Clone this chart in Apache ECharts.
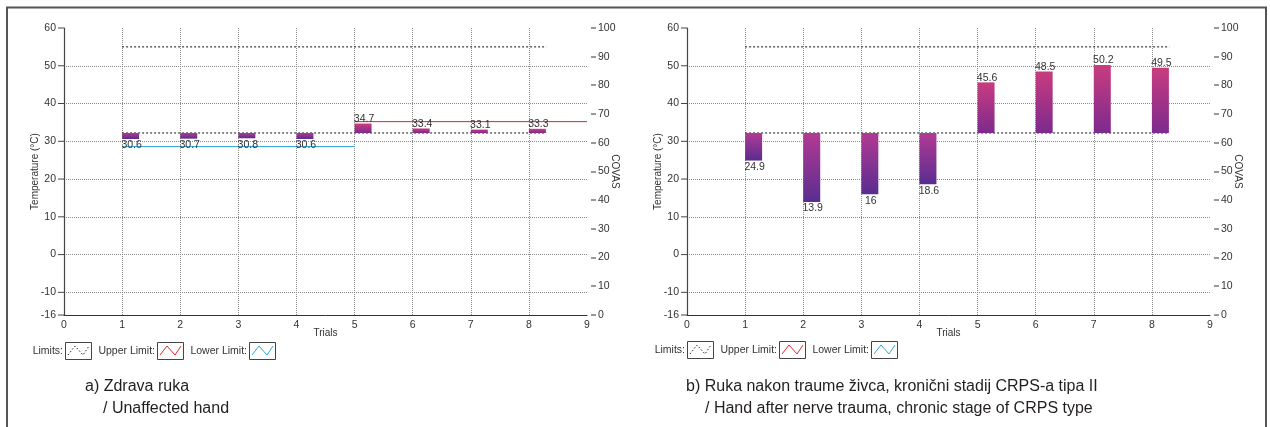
<!DOCTYPE html>
<html>
<head>
<meta charset="utf-8">
<script src="https://cdn.jsdelivr.net/npm/echarts@6/dist/echarts.min.js"></script>
<style>
html,body{margin:0;padding:0;background:#fff;}
#chart{width:1270px;height:427px;}
</style>
</head>
<body>
<div id="chart"></div>
<script>
// ---- data ----
const trials = [1, 2, 3, 4, 5, 6, 7, 8];
const tempA = [30.6, 30.7, 30.8, 30.6, 34.7, 33.4, 33.1, 33.3];
const tempB = [24.9, 13.9, 16, 18.6, 45.6, 48.5, 50.2, 49.5];
const baseLine = 32.2;          // limits (lower dotted)
const upperDotted = 55;         // limits (upper dotted)
const limitsX = [1, 8.3];
const lowerLimitA = [[1, 28.6], [5, 28.6]];
const upperLimitA = [[5, 35.2], [9, 35.2]];
const tempTicks = [-16, -10, 0, 10, 20, 30, 40, 50, 60];
const covasTicks = [0, 10, 20, 30, 40, 50, 60, 70, 80, 90, 100];
const xMin = 0, xMax = 9;
const captionA = ['a) Zdrava ruka', '/ Unaffected hand'];
const captionB = ['b) Ruka nakon traume živca, kronični stadij CRPS-a tipa II', '/ Hand after nerve trauma, chronic stage of CRPS type'];

const FONT = 'Liberation Sans, Arial, sans-serif';
const TXT = '#333';
const BAR_W = 17;

const gradUp = new echarts.graphic.LinearGradient(0, 0, 0, 1, [
  {offset: 0, color: '#c93c7f'}, {offset: 1, color: '#7c2a8e'}]);
const gradDown = new echarts.graphic.LinearGradient(0, 0, 0, 1, [
  {offset: 0, color: '#b23a94'}, {offset: 1, color: '#592d8f'}]);

function renderBar(params, api) {
  const x = api.value(0), v = api.value(1);
  const p0 = api.coord([x, baseLine]);
  const p1 = api.coord([x, v]);
  const up = v >= baseLine;
  const top = Math.min(p0[1], p1[1]);
  const h = Math.abs(p1[1] - p0[1]);
  return {
    type: 'group',
    children: [
      {type: 'rect', shape: {x: p0[0], y: top, width: BAR_W, height: h},
       style: {fill: up ? gradUp : gradDown}},
      {type: 'text', x: p0[0] + BAR_W / 2 + 1, y: p1[1] + 1,
       style: {text: String(v), align: 'center', verticalAlign: up ? 'bottom' : 'top',
               fill: TXT, fontSize: 10.5, fontFamily: FONT}}
    ]
  };
}

// right-axis tick marks drawn through the axis scale
function renderRightTick(params, api) {
  const cs = params.coordSys;
  const p = api.coord([api.value(0), api.value(1)]);
  return {type: 'rect', shape: {x: cs.x + cs.width + 4, y: Math.round(p[1]) - 0.5, width: 5, height: 1},
          style: {fill: '#333'}, z2: 100};
}

const grids = [
  {left: 64, top: 28, width: 523, height: 287},
  {left: 687, top: 28, width: 523, height: 287}
];

const dotted = {color: '#8a8a8a', type: [1, 1], width: 1};

function xAxes(gi) {
  return [
    {type: 'value', gridIndex: gi, min: xMin, max: xMax, interval: 1, position: 'bottom',
     name: 'Trials', nameLocation: 'middle', nameGap: 13, nameMoveOverlap: false,
     nameTextStyle: {color: TXT, fontSize: 10, fontFamily: FONT},
     axisLine: {show: false}, axisTick: {show: false},
     axisLabel: {color: TXT, fontSize: 10.5, fontFamily: FONT, margin: 5, showMinLabel: true, showMaxLabel: true},
     splitLine: {show: true, showMinLine: false, showMaxLine: false, lineStyle: dotted}},
    {type: 'value', gridIndex: gi, min: xMin, max: xMax, position: 'top',
     axisLine: {show: true, lineStyle: {color: '#333', width: 1}},
     axisTick: {show: false}, axisLabel: {show: false}, splitLine: {show: false}}
  ];
}
function yAxes(gi) {
  return [
    {type: 'value', gridIndex: gi, min: -16, max: 60, position: 'left',
     name: 'Temperature (°C)', nameLocation: 'middle', nameGap: 24, nameRotate: 90, nameMoveOverlap: false,
     nameTextStyle: {color: TXT, fontSize: 10, fontFamily: FONT},
     axisLine: {show: true, lineStyle: {color: '#444', width: 1.2}},
     axisTick: {show: false, customValues: tempTicks},
     axisLabel: {color: TXT, fontSize: 10.5, fontFamily: FONT, margin: 0, customValues: tempTicks,
       formatter: function (v) { return '{v|' + v + '}{t| }'; },
       rich: {
         v: {color: TXT, fontSize: 10.5, fontFamily: FONT, padding: [0, 2, 0, 0]},
         t: {width: 6, height: 1, lineHeight: 1, fontSize: 1, backgroundColor: '#444', verticalAlign: 'middle'}
       }},
     splitLine: {show: true, showMinLine: false, showMaxLine: false, lineStyle: dotted}},
    {type: 'value', gridIndex: gi, min: 0, max: 100, interval: 10, position: 'right', offset: 4,
     name: 'COVAS', nameLocation: 'middle', nameGap: 19, nameRotate: -90, nameMoveOverlap: false,
     nameTextStyle: {color: TXT, fontSize: 10, fontFamily: FONT},
     axisLine: {show: false}, axisTick: {show: false},
     axisLabel: {color: TXT, fontSize: 10.5, fontFamily: FONT, margin: 7, customValues: covasTicks},
     splitLine: {show: false}}
  ];
}

function limitSeries(gi, y) {
  return {type: 'line', xAxisIndex: gi * 2, yAxisIndex: gi * 2, symbol: 'none', silent: true,
    data: [[limitsX[0], y], [limitsX[1], y]], lineStyle: {color: '#111', type: [2, 2], width: 1}, z: 2};
}
function rightTickSeries(gi) {
  return {type: 'custom', xAxisIndex: gi * 2, yAxisIndex: gi * 2 + 1, clip: false, silent: true,
     renderItem: renderRightTick, data: covasTicks.map(v => [xMax, v]), z: 20};
}

function legendGroup(boxXs, y) {
  const names = ['Limits:', 'Upper Limit:', 'Lower Limit:'];
  const colors = ['#222', '#e5262d', '#2aa9e0'];
  const children = [];
  for (let i = 0; i < 3; i++) {
    const bx = boxXs[i];
    children.push({type: 'text', x: bx - 2, y: y + 9,
      style: {text: names[i], align: 'right', verticalAlign: 'middle', fill: TXT, fontSize: 10.5, fontFamily: FONT}});
    children.push({type: 'rect', shape: {x: bx + 0.5, y: y + 0.5, width: 26, height: 17},
      style: {fill: '#fff', stroke: '#444', lineWidth: 1}});
    children.push({type: 'polyline', shape: {points: [[bx + 3, y + 13], [bx + 10, y + 4], [bx + 18, y + 13], [bx + 24, y + 4]]},
      style: {fill: null, stroke: colors[i], lineWidth: 1, lineDash: i === 0 ? [1.5, 2] : null}});
  }
  return {type: 'group', children: children};
}

function caption(lines, x1, x2, y) {
  return {type: 'group', children: [
    {type: 'text', x: x1, y: y, style: {text: lines[0], fill: '#231f20', fontSize: 16, fontFamily: FONT, verticalAlign: 'middle'}},
    {type: 'text', x: x2, y: y + 22, style: {text: lines[1], fill: '#231f20', fontSize: 16, fontFamily: FONT, verticalAlign: 'middle'}}
  ]};
}

const option = {
  animation: false,
  backgroundColor: '#fff',
  grid: grids,
  xAxis: [...xAxes(0), ...xAxes(1)],
  yAxis: [...yAxes(0), ...yAxes(1)],
  series: [
    limitSeries(0, upperDotted),
    limitSeries(0, baseLine),
    {type: 'line', name: 'Lower Limit', xAxisIndex: 0, yAxisIndex: 0, symbol: 'none', data: lowerLimitA,
     lineStyle: {color: '#2aa9e0', width: 1}, z: 3},
    {type: 'line', name: 'Upper Limit', xAxisIndex: 0, yAxisIndex: 0, symbol: 'none', data: upperLimitA,
     lineStyle: {color: '#d8232a', width: 1}, z: 3},
    {type: 'custom', xAxisIndex: 0, yAxisIndex: 0, renderItem: renderBar,
     data: trials.map((t, i) => [t, tempA[i]]), z: 5},
    rightTickSeries(0),
    limitSeries(1, upperDotted),
    limitSeries(1, baseLine),
    {type: 'custom', xAxisIndex: 2, yAxisIndex: 2, renderItem: renderBar,
     data: trials.map((t, i) => [t, tempB[i]]), z: 5},
    rightTickSeries(1)
  ],
  graphic: [
    {type: 'rect', shape: {x: 7, y: 7.5, width: 1259, height: 440}, style: {fill: null, stroke: '#555', lineWidth: 2}, silent: true},
    legendGroup([65, 157, 249], 342),
    legendGroup([687, 779, 871], 341),
    caption(captionA, 85, 103, 387),
    caption(captionB, 686, 705, 387)
  ]
};

const chart = echarts.init(document.getElementById('chart'), null, {renderer: 'canvas'});
chart.setOption(option);
</script>
</body>
</html>
